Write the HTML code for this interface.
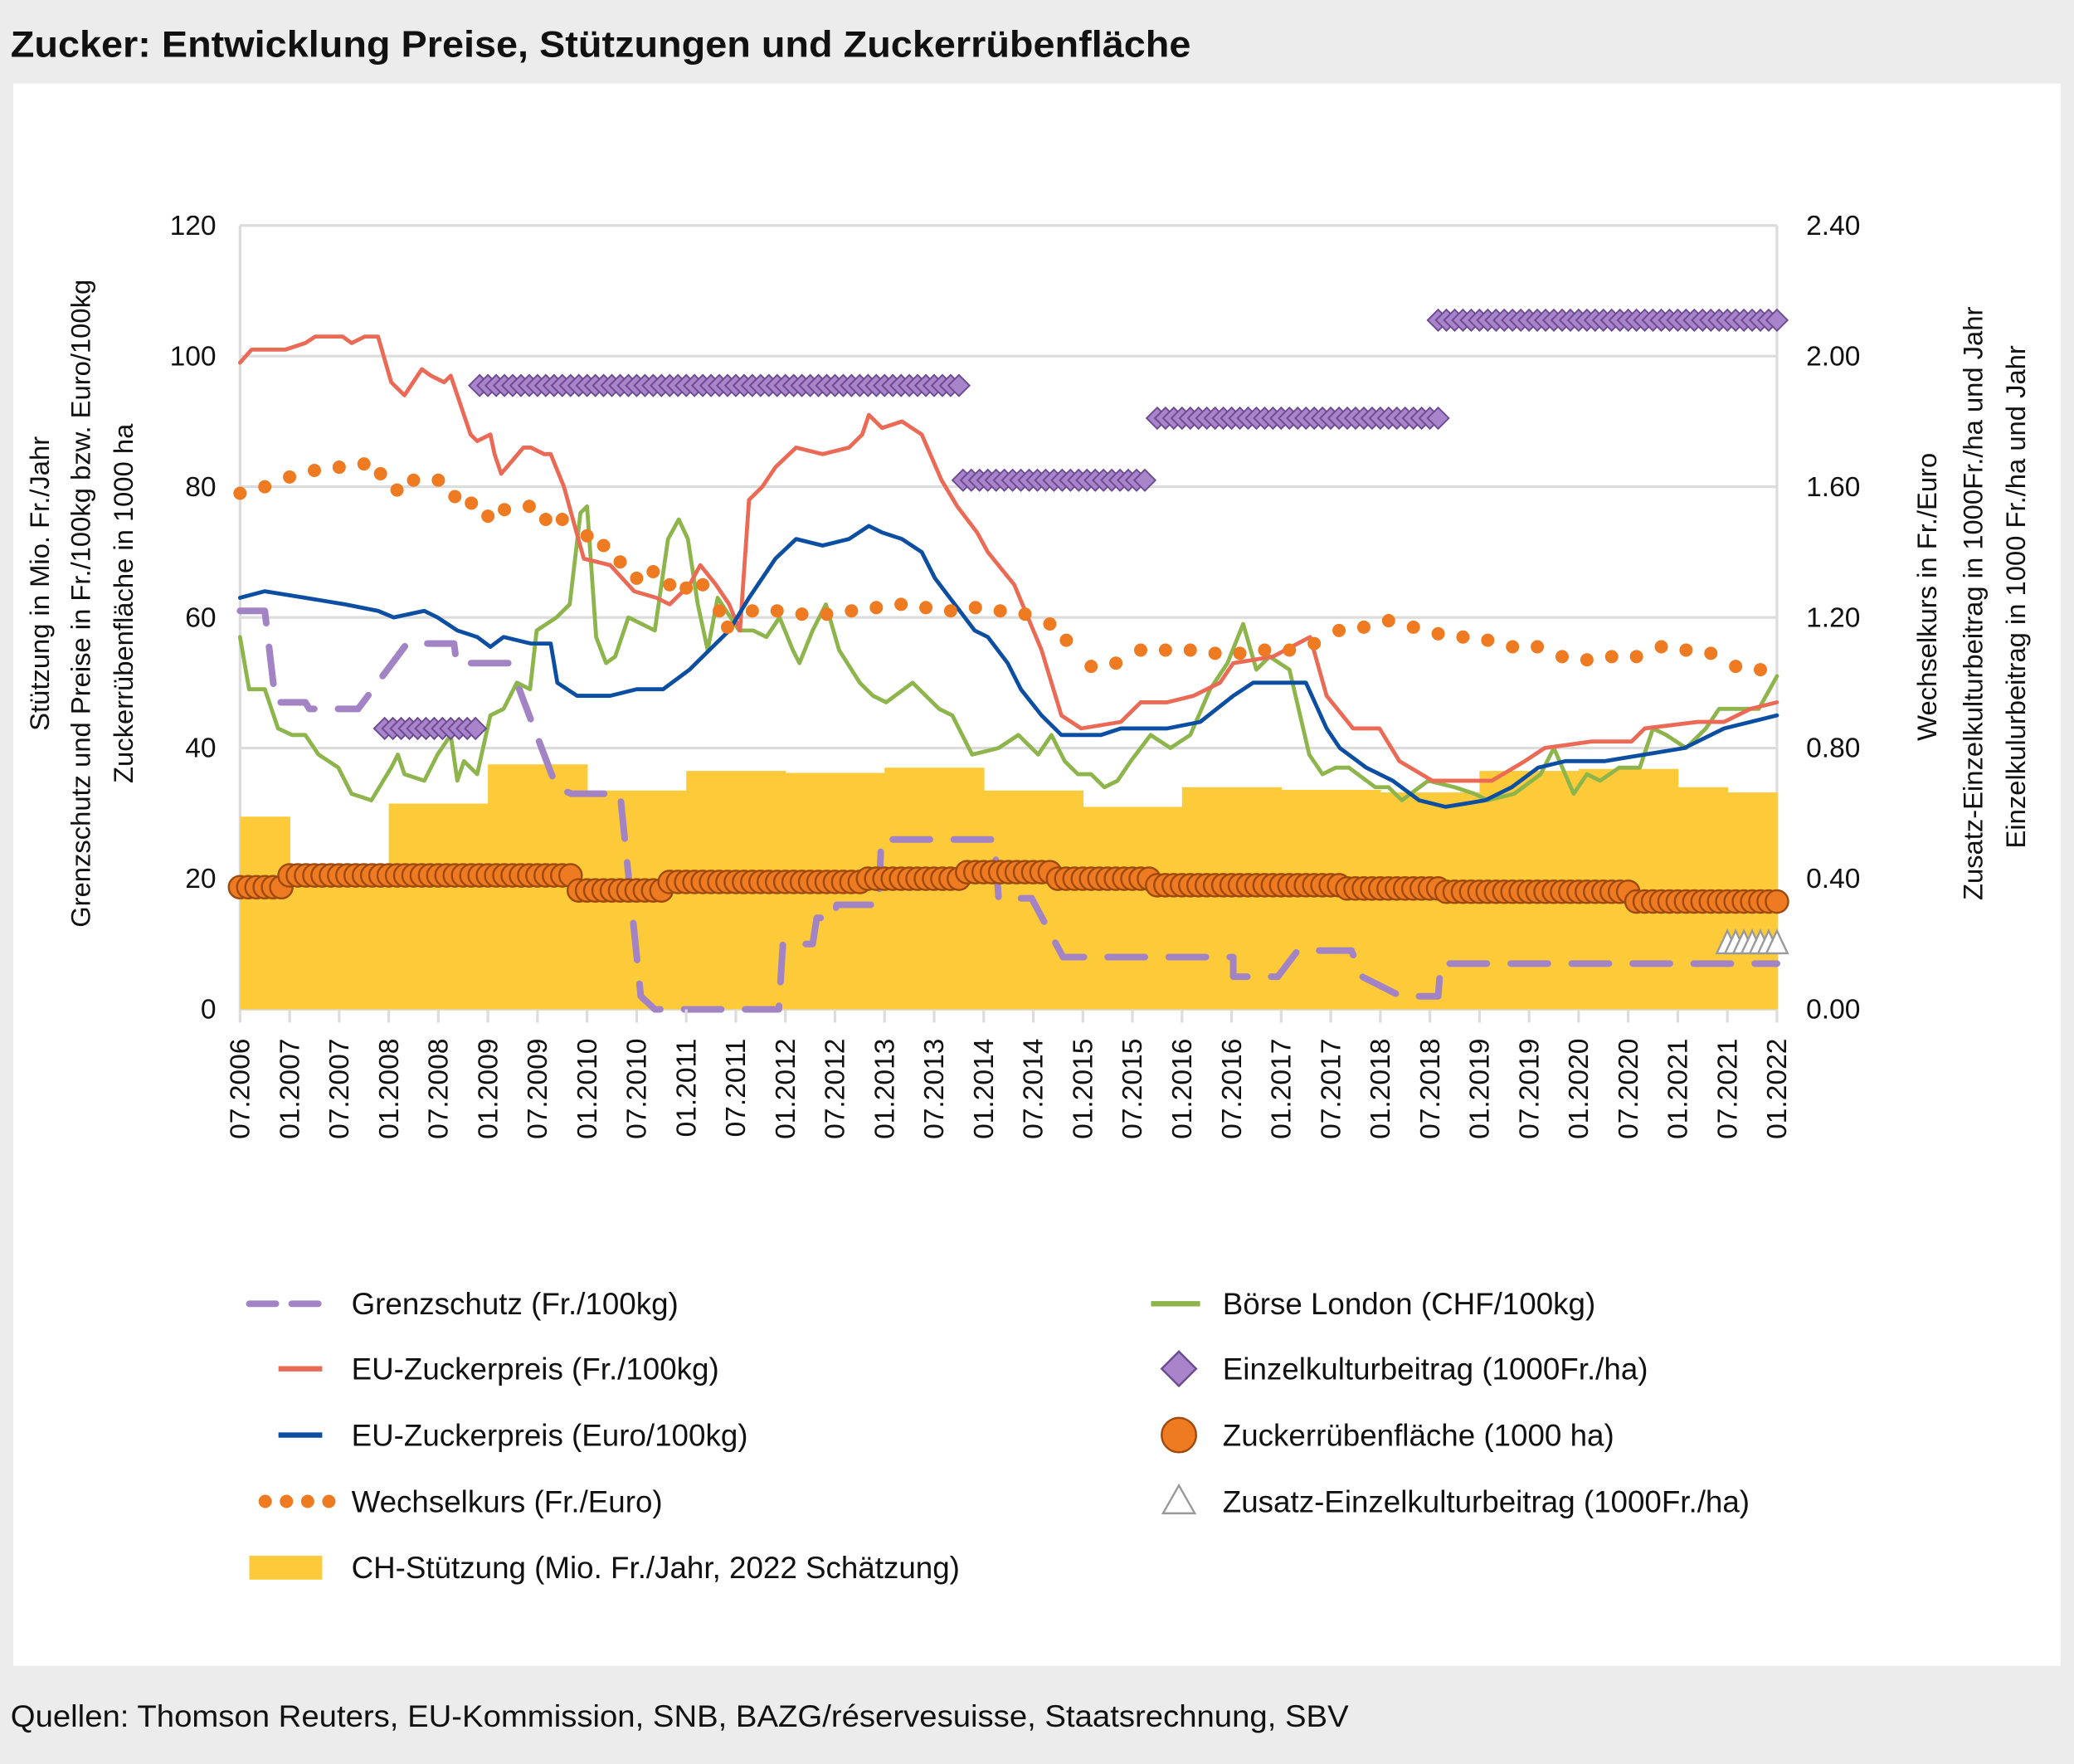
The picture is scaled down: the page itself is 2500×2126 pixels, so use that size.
<!DOCTYPE html>
<html><head><meta charset="utf-8">
<style>
html,body{margin:0;padding:0;background:#ececec;}
svg{display:block;}
text{font-family:"Liberation Sans",sans-serif;}
</style></head>
<body>
<svg id="chart" width="2500" height="2126" viewBox="0 0 1564 1330" xmlns="http://www.w3.org/2000/svg">
<rect x="0" y="0" width="1564" height="1330" fill="#ececec"/>
<text x="8" y="43" font-size="28" font-weight="bold" fill="#111" textLength="890" lengthAdjust="spacingAndGlyphs">Zucker: Entwicklung Preise, Stützungen und Zuckerrübenfläche</text>
<rect x="10" y="63" width="1544" height="1193" fill="#fff"/>
<text x="8" y="1302" font-size="23" fill="#111" textLength="1009" lengthAdjust="spacingAndGlyphs">Quellen: Thomson Reuters,  EU-Kommission, SNB, BAZG/réservesuisse, Staatsrechnung, SBV</text>
<g id="grid"></g>
<g id="bars"></g>
<g id="series"></g>
<g id="axes"></g>
<g id="legend"></g>
</svg>
<script>
// ---------- data ----------
const xTickLabels=["07.2006","01.2007","07.2007","01.2008","07.2008","01.2009","07.2009","01.2010","07.2010","01.2011","07.2011","01.2012","07.2012","01.2013","07.2013","01.2014","07.2014","01.2015","07.2015","01.2016","07.2016","01.2017","07.2017","01.2018","07.2018","01.2019","07.2019","01.2020","07.2020","01.2021","07.2021","01.2022"];
const leftTicks=[0,20,40,60,80,100,120];
const rightTicks=["0.00","0.40","0.80","1.20","1.60","2.00","2.40"];
// CH-Stützung: month start, month end, value (Mio Fr.)
const supStart=[0,6,18,30,42,54,66,78,90,102,114,126,138,150,162,174,180];
const supEnd=[6,18,30,42,54,66,78,90,102,114,126,138,150,162,174,180,186];
const supVal=[29.5,20,31.5,37.5,33.5,36.5,36.2,37,33.5,31,34,33.6,33.2,36.5,36.8,34,33.2];
// EU price Fr (month, value)
const redX=[0,1.4,3,5.5,7.9,9.1,12.4,13.5,15.1,16.7,18.3,19.9,22,23.1,24.7,25.5,26.3,27.9,28.7,30.3,30.8,31.6,34.3,35.2,36.8,37.6,39.2,41.6,44.8,47.7,50.4,52,54.4,55.7,57.6,59.2,60.5,61.6,63.2,64.8,67.3,70.5,73.7,75.3,76.1,77.7,80.1,82.5,84.9,86.8,89.2,90.5,93.7,97,99.4,101.8,106.6,109,112.2,115.4,118.6,120.2,125,129.5,131.5,134.7,137.9,140.3,144.3,147.5,151.5,155.5,157.9,163.6,168.4,170,176.4,179.6,182.8,186];
const redY=[99,101,101,101,102,103,103,102,103,103,96,94,98,97,96,97,94,88,87,88,85,82,86,86,85,85,80,69,68,64,63,62,65,68,65,62,58,78,80,83,86,85,86,88,91,89,90,88,81,77,73,70,65,55,45,43,44,47,47,48,50,53,54,57,48,43,43,38,35,35,35,38,40,41,41,43,44,44,46,47];
// EU price Euro
const blueX=[0,3,7.9,12.7,16.7,18.6,22.3,23.9,26.3,28.7,30.3,31.9,35.2,37.6,38.4,40.8,44.8,48,51.2,54.4,57.6,59.2,61.6,63.2,64.8,67.3,70.5,73.7,76.1,77.7,80.1,82.5,84.1,86.5,88.9,90.5,92.9,94.5,97,99.4,104.2,106.6,112.2,116.2,120.2,122.6,129,131.5,133.1,136.3,139.5,142.7,145.9,150.7,153.9,157.1,160.4,165.2,170,174.8,179.6,182.8,186];
const blueY=[63,64,63,62,61,60,61,60,58,57,55.5,57,56,56,50,48,48,49,49,52,56,58,63,66,69,72,71,72,74,73,72,70,66,62,58,57,53,49,45,42,42,43,43,44,48,50,50,43,40,37,35,32,31,32,34,37,38,38,39,40,43,44,45];
// Börse London
const greenX=[0,1.1,3,4.6,6.3,7.9,9.5,11.9,13.5,15.9,18.3,19.1,19.9,22.3,23.9,25.5,26.3,27.1,28.7,30.3,31.9,33.5,35.1,35.9,38.3,39.9,41.2,42,43.1,44.3,45.4,47,50.2,51.8,53.1,54.2,55.4,56.6,57.8,60.4,62.1,63.7,65.3,66.9,67.7,69.3,70.9,72.5,75,76.6,78.2,81.4,83,84.6,86.2,88.6,91.8,94.2,96.6,98.2,99.8,101.4,103,104.6,106.2,107.8,110.2,112.6,115,117.4,119.5,121.4,123,124.6,127,129.4,131,132.6,134.2,137.4,139,140.6,143.8,147,149.4,151,154.2,157.4,159,161.4,163,164.6,166.9,169.4,171,172.6,175,177.4,179,180.6,183.8,186];
const greenY=[57,49,49,43,42,42,39,37,33,32,37,39,36,35,39,42,35,38,36,45,46,50,49,58,60,62,76,77,57,53,54,60,58,72,75,72,62,55,63,58,58,57,60,55,53,58,62,55,50,48,47,50,48,46,45,39,40,42,39,42,38,36,36,34,35,38,42,40,42,49,53,59,52,54,52,39,36,37,37,34,34,32,35,34,33,32,33,36,40,33,36,35,37,37,43,42,40,43,46,46,46,51,55];
// Grenzschutz (step)
const gsX=[0,3,4.3,7.9,8.4,14.3,20.2,22.4,24.7,25.9,26.2,32.6,38.3,40.1,43.2,46,48.5,50.2,65.2,65.7,69.3,69.8,71.9,72.2,77.3,77.6,91.3,91.8,95.8,99.6,118.5,120.2,120.2,125,125.6,128,128.3,134.5,135.8,140.5,145,145.3,186];
const gsY=[61,61,47,47,46,46,56,56,56,56,53,53,34,33,33,33,2,0,0,10,10,14,14,16,16,26,26,17,17,8,8,8,5,5,5,9,9,9,5,2,2,7,7];
// Wechselkurs dots
const fxM=[0,3,6,9,12,15,17,19,21,24,26,28,30,32,35,37,39,42,44,46,48,50,52,54,56,58,59,62,65,68,71,74,77,80,83,86,89,92,95,98,100,103,106,109,112,115,118,121,124,127,130,133,136,139,142,145,148,151,154,157,160,163,166,169,172,175,178,181,184];
const fxV=[1.58,1.60,1.63,1.65,1.66,1.67,1.64,1.59,1.62,1.62,1.57,1.55,1.51,1.53,1.54,1.50,1.50,1.45,1.42,1.37,1.32,1.34,1.30,1.29,1.30,1.22,1.17,1.22,1.22,1.21,1.21,1.22,1.23,1.24,1.23,1.22,1.23,1.22,1.21,1.18,1.13,1.05,1.06,1.10,1.10,1.10,1.09,1.09,1.10,1.10,1.12,1.16,1.17,1.19,1.17,1.15,1.14,1.13,1.11,1.11,1.08,1.07,1.08,1.08,1.11,1.10,1.09,1.05,1.04];
// Einzelkulturbeitrag segments (month range, value 1000 Fr/ha)
const ekbStart=[17.5,29,87.5,111,145];
const ekbEnd=[28.5,87,110,145,186];
const ekbVal=[0.86,1.91,1.62,1.81,2.11];
// Zuckerrübenfläche segments (1000 ha)
const zrStart=[0,6,41,52,76,88,99,111,134,146,169];
const zrEnd=[5,40,51,75,87,98,110,133,145,168,186];
const zrVal=[18.7,20.5,18.2,19.5,20,21,20,19,18.5,18,16.5];
// Zusatz-Einzelkulturbeitrag
const zusM=[180,181,182,183,184,185,186];
const zusV=[0.2,0.2,0.2,0.2,0.2,0.2,0.2];

// ---------- scales ----------
const X0=181,X1=1340,YT=170,YB=761;
const xs=m=>X0+(X1-X0)*m/186;
const yl=v=>YB-(YB-YT)*v/120;
const yr=v=>YB-(YB-YT)*v/2.4;
const NS="http://www.w3.org/2000/svg";
function mk(tag,attrs,parent){const e=document.createElementNS(NS,tag);for(const k in attrs)e.setAttribute(k,attrs[k]);parent.appendChild(e);return e;}
const grid=document.getElementById('grid'),bars=document.getElementById('bars'),ser=document.getElementById('series'),axes=document.getElementById('axes'),leg=document.getElementById('legend');

leftTicks.forEach((t,i)=>{
  const g=mk('line',{x1:X0,x2:X1,y1:yl(t),y2:yl(t),stroke:'#dcdcdc','stroke-width':2},grid);
  
  
  const a=mk('text',{x:163,y:yl(t)+7,'font-size':21,'text-anchor':'end',fill:'#111'},axes);a.textContent=t;
  
  
  const b=mk('text',{x:1362,y:yr(+rightTicks[i])+7,'font-size':21,fill:'#111'},axes);b.textContent=rightTicks[i];
  
  
});
[X0,X1].forEach(x=>{const l=mk('line',{x1:x,x2:x,y1:YT,y2:YB,stroke:'#dcdcdc','stroke-width':2},grid);
  
  });
xTickLabels.forEach((s,i)=>{
  const x=xs(i*6);
  const tk=mk('line',{x1:x,x2:x,y1:YB,y2:YB+10,stroke:'#dcdcdc','stroke-width':2},axes);
  
  
  const t=mk('text',{x:0,y:0,'font-size':21,'text-anchor':'end',fill:'#111',transform:`translate(${x+7},${YB+22}) rotate(-90)`},axes);t.textContent=s;
  
  
});
supVal.forEach((v,i)=>{
  const r=mk('rect',{x:xs(supStart[i]),y:yl(v),width:xs(supEnd[i])-xs(supStart[i])+0.5,height:YB-yl(v),fill:'#FDCB3A'},bars);
  
  
});
function line(xa,ya,yf,col,w,dash,name){
  const p=mk('polyline',{points:xa.map((m,i)=>xs(m)+','+yf(ya[i])).join(' '),fill:'none',stroke:col,'stroke-width':w,'stroke-linejoin':'round','stroke-linecap':'round'},ser);
  if(dash)p.setAttribute('stroke-dasharray',dash);
  
  
}
line(gsX,gsY,yl,'#A283C4',5,'28 18','grenzschutz-line');
line(greenX,greenY,yl,'#8DB54B',3,null,'boerse-london-line');
line(redX,redY,yl,'#EB6A55',3,null,'eu-price-chf-line');
line(blueX,blueY,yl,'#0B4EA2',3,null,'eu-price-eur-line');
fxM.forEach((m,i)=>{const c=mk('circle',{cx:xs(m),cy:yr(fxV[i]),r:5,fill:'#EE7A22'},ser);
  
  });
ekbVal.forEach((v,i)=>{for(let m=ekbStart[i];m<=ekbEnd[i]+0.01;m+=1){
  const x=xs(m),y=yr(v);
  const d=mk('polygon',{points:`${x},${y-8} ${x+8},${y} ${x},${y+8} ${x-8},${y}`,fill:'#A885CB',stroke:'#6C4A92','stroke-width':1.2},ser);
  
  }});
zrVal.forEach((v,i)=>{for(let m=zrStart[i];m<=zrEnd[i]+0.01;m+=1){
  const c=mk('circle',{cx:xs(m),cy:yl(v),r:8.5,fill:'#EE7A22',stroke:'#9E4A0E','stroke-width':1.5},ser);
  
  }});
zusM.forEach((m,i)=>{const x=xs(m),y=yr(zusV[i]);
  const t=mk('polygon',{points:`${x},${y-10} ${x+8},${y+7} ${x-8},${y+7}`,fill:'#fff',stroke:'#999','stroke-width':1.5},ser);
  
  });
const lt=["Stützung in Mio. Fr./Jahr","Grenzschutz und Preise in Fr./100kg bzw. Euro/100kg","Zuckerrübenfläche in 1000 ha"];
[37,68,100].forEach((x,i)=>{const t=mk('text',{x:0,y:0,'font-size':20.5,'text-anchor':'middle',fill:'#111',transform:`translate(${x},${i==0?440:455}) rotate(-90)`},axes);t.textContent=lt[i];
  
  });
const rt=["Wechselkurs in Fr./Euro","Zusatz-Einzelkulturbeitrag in 1000Fr./ha und Jahr","Einzelkulurbeitrag in 1000 Fr./ha und Jahr"];
[1460,1495,1527].forEach((x,i)=>{const t=mk('text',{x:0,y:0,'font-size':20.5,'text-anchor':'middle',fill:'#111',transform:`translate(${x},${i==0?450:i==1?455:450}) rotate(-90)`},axes);t.textContent=rt[i];
  
  });
function ltext(x,y,s,name){const t=mk('text',{x:x,y:y+8,'font-size':23,fill:'#111'},leg);t.textContent=s;
  
  }
let y=983;
let e=mk('line',{x1:188,x2:243,y1:y,y2:y,stroke:'#A283C4','stroke-width':5,'stroke-dasharray':'20 12','stroke-linecap':'round'},leg);


ltext(265,y,'Grenzschutz (Fr./100kg)','legend-grenzschutz');
y=1032;e=mk('line',{x1:210,x2:243,y1:y,y2:y,stroke:'#EB6A55','stroke-width':4},leg);


ltext(265,y,'EU-Zuckerpreis (Fr./100kg)','legend-eu-chf');
y=1082;e=mk('line',{x1:210,x2:243,y1:y,y2:y,stroke:'#0B4EA2','stroke-width':4},leg);


ltext(265,y,'EU-Zuckerpreis (Euro/100kg)','legend-eu-eur');
y=1132;[200,216,232,248].forEach(x=>{const c=mk('circle',{cx:x,cy:y,r:5,fill:'#EE7A22'},leg);
  
  });
ltext(265,y,'Wechselkurs (Fr./Euro)','legend-fx');
y=1182;e=mk('rect',{x:188,y:y-9,width:55,height:18,fill:'#FDCB3A'},leg);


ltext(265,y,'CH-Stützung (Mio. Fr./Jahr, 2022 Schätzung)','legend-support');
y=983;e=mk('line',{x1:868,x2:905,y1:y,y2:y,stroke:'#8DB54B','stroke-width':4},leg);


ltext(922,y,'Börse London (CHF/100kg)','legend-boerse');
y=1032;e=mk('polygon',{points:`889,${y-13} 902,${y} 889,${y+13} 876,${y}`,fill:'#A885CB',stroke:'#6C4A92','stroke-width':1.5},leg);


ltext(922,y,'Einzelkulturbeitrag (1000Fr./ha)','legend-ekb');
y=1082;e=mk('circle',{cx:889,cy:y,r:13,fill:'#EE7A22',stroke:'#9E4A0E','stroke-width':1.5},leg);


ltext(922,y,'Zuckerrübenfläche (1000 ha)','legend-zr');
y=1132;e=mk('polygon',{points:`889,${y-12} 901,${y+9} 877,${y+9}`,fill:'#fff',stroke:'#999','stroke-width':1.5},leg);


ltext(922,y,'Zusatz-Einzelkulturbeitrag (1000Fr./ha)','legend-zusatz');
</script>
</body></html>
